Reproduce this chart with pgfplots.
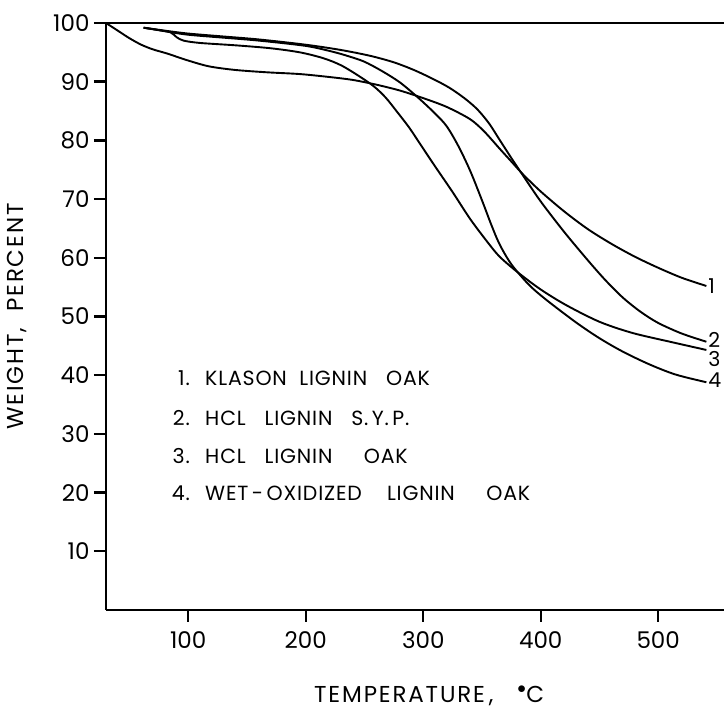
\documentclass[border=0pt]{standalone}
\usepackage{pgfplots}
\pgfplotsset{compat=1.18}
\usepackage{fontspec}
\setmainfont{Poppins}
\newcommand{\tkf}{\fontsize{23}{26}\selectfont}
\newcommand{\legf}{\fontsize{20.5}{24}\selectfont\addfontfeature{LetterSpace=4}}
\newcommand{\ttlf}{\fontsize{23}{26}\selectfont\addfontfeature{LetterSpace=8}}
\begin{document}
\begin{tikzpicture}
\begin{axis}[
  scale only axis, width=618pt, height=587pt,
  xmin=30, xmax=556, ymin=0, ymax=100,
  axis x line=box, axis y line=left,
  axis line style={-, line width=2.6pt, black},
  xtick={100,200,300,400,500}, ytick={10,20,...,100},
  xtick pos=bottom, ytick pos=left,
  tick align=outside, major tick length=12pt,
  tick style={line width=2.4pt, black},
  /pgf/number format/assume math mode=true,
  ticklabel style={font=\tkf},
  xticklabel style={yshift=-6pt},
  yticklabel style={xshift=-1pt},
  xlabel={TEMPERATURE\,,\ \ \ $^{\bullet}$C},
  ylabel={WEIGHT,\ \ PERCENT},
  xlabel style={font=\ttlf, at={([yshift=-93pt]axis description cs:0.523,0)}, anchor=base},
  ylabel style={font=\ttlf, at={([xshift=-89pt]axis description cs:0,0.5)}, anchor=center},
  clip=false,
]
\addplot[smooth, line width=1.9pt] coordinates {
(30,100) (40,98.7) (50,97.4) (60,96.3) (70,95.5) (82,94.8) (100,93.6) (118,92.6) (140,92.0) (167,91.6) (195,91.3) (220,90.8) (240,90.3) (260,89.5) (280,88.5) (300,87.2) (320,85.7) (340,83.6) (352,81.5) (365,78.6) (375,76.4) (385,74.2) (400,71.3) (420,67.9) (440,64.9) (460,62.4) (480,60.2) (500,58.3) (520,56.6) (541,55.2)};
\addplot[smooth, line width=1.9pt] coordinates {
(62,99.2) (80,98.7) (100,98.2) (130,97.7) (160,97.2) (200,96.3) (230,95.4) (255,94.4) (275,93.3) (292,92.0) (308,90.5) (322,89.0) (335,87.2) (346,85.3) (356,82.9) (365,80.1) (375,77.0) (385,74.0) (400,69.6) (420,64.4) (440,59.6) (455,56.2) (470,53.2) (485,50.8) (500,48.9) (520,47.1) (541,45.7)};
\addplot[smooth, line width=1.9pt] coordinates {
(62,99.2) (75,98.8) (85,98.4) (90,97.6) (96,97.0) (110,96.6) (140,96.2) (170,95.7) (195,95.0) (215,94.0) (230,92.8) (245,91.0) (258,89.2) (268,87.3) (278,84.8) (288,82.2) (298,79.2) (310,75.6) (325,71.2) (340,66.6) (355,62.6) (365,60.2) (380,57.6) (400,54.6) (422,51.9) (450,49.1) (478,47.2) (510,45.7) (541,44.3)};
\addplot[smooth, line width=1.9pt] coordinates {
(62,99.2) (80,98.6) (100,98.0) (130,97.5) (160,97.0) (200,96.1) (223,95.1) (237,94.3) (250,93.4) (265,91.8) (280,89.9) (295,87.4) (310,84.6) (320,82.4) (330,79.0) (340,74.8) (350,69.8) (358,65.6) (365,62.3) (375,58.9) (390,55.4) (405,52.8) (430,49.0) (450,46.3) (470,44.0) (493,41.8) (515,40.1) (541,38.8)};
\node[font=\legf, anchor=west, inner sep=0pt] at (axis cs:542.5,55.2) {1};
\node[font=\legf, anchor=west, inner sep=0pt] at (axis cs:542.5,46.0) {2};
\node[font=\legf, anchor=west, inner sep=0pt] at (axis cs:542.5,42.8) {3};
\node[font=\legf, anchor=west, inner sep=0pt] at (axis cs:542.5,39.2) {4};
\node[font=\legf, anchor=base east, inner sep=0pt] at (axis cs:101.5,38.2) {1.};
\node[font=\legf, anchor=base east, inner sep=0pt] at (axis cs:101.5,31.5) {2.};
\node[font=\legf, anchor=base east, inner sep=0pt] at (axis cs:101.5,25.0) {3.};
\node[font=\legf, anchor=base east, inner sep=0pt] at (axis cs:101.5,18.7) {4.};
\node[font=\legf, anchor=base west, inner sep=0pt] at (axis cs:114.3,38.2) {KLASON\ \ LIGNIN\ \ \ OAK};
\node[font=\legf, anchor=base west, inner sep=0pt] at (axis cs:114.3,31.5) {HCL\ \ \ LIGNIN\ \ \ S.\,Y.\,P.};
\node[font=\legf, anchor=base west, inner sep=0pt] at (axis cs:114.3,25.0) {HCL\ \ \ LIGNIN\ \ \ \ \ OAK};
\node[font=\legf, anchor=base west, inner sep=0pt] at (axis cs:114.3,18.7) {WET\,-\,OXIDIZED\ \ \ \ LIGNIN\ \ \ \ \ OAK};
\coordinate (SW) at (rel axis cs:0,0);
\coordinate (NE) at (rel axis cs:1,1);
\end{axis}
\pgfresetboundingbox
\path ([xshift=-106pt,yshift=-102pt]SW) rectangle ([yshift=23pt]NE);
\end{tikzpicture}
\end{document}
